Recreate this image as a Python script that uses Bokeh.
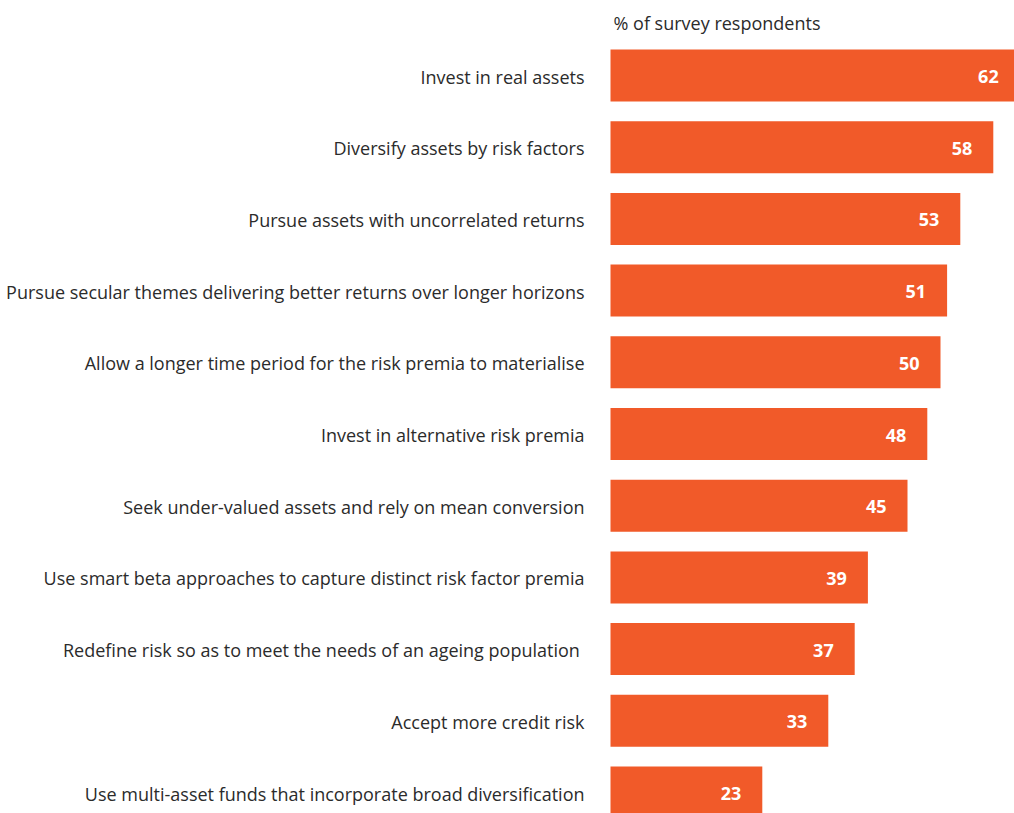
from bokeh.plotting import figure
from bokeh.models import ColumnDataSource, Range1d
from bokeh.core.properties import value
from bokeh.embed import file_html
from bokeh.resources import INLINE

categories = [
    "Invest in real assets",
    "Diversify assets by risk factors",
    "Pursue assets with uncorrelated returns",
    "Pursue secular themes delivering better returns over longer horizons",
    "Allow a longer time period for the risk premia to materialise",
    "Invest in alternative risk premia",
    "Seek under-valued assets and rely on mean conversion",
    "Use smart beta approaches to capture distinct risk factor premia",
    "Redefine risk so as to meet the needs of an ageing population ",
    "Accept more credit risk",
    "Use multi-asset funds that incorporate broad diversification",
]
values = [62, 58, 53, 51, 50, 48, 45, 39, 37, 33, 23]
axis_title = "% of survey respondents"

W, H = 1014, 813
x0_px = 610
ppu = 6.6
pitch = 71.7
first_center = 75

pos = list(range(len(categories)))
src = ColumnDataSource(dict(y=pos, v=values, cat=categories,
                            lab=[str(v) for v in values]))

p = figure(width=W, height=H, output_backend="svg", toolbar_location=None,
           x_range=Range1d(-x0_px / ppu, (W - x0_px) / ppu),
           y_range=Range1d((H - first_center) / pitch, -first_center / pitch),
           min_border=0, outline_line_color=None)
p.axis.visible = False
p.grid.visible = False
p.background_fill_color = "white"
p.border_fill_color = "white"

p.hbar(y="y", right="v", left=0, height=52 / pitch, source=src,
       fill_color="#F15A29", line_color=None)

p.text(x=0, y="y", text="cat", source=src, x_offset=-26, y_offset=1,
       text_align="right", text_baseline="middle",
       text_font=value("Open Sans"), text_font_size="18px", text_color="#2b2b2b")

p.text(x="v", y="y", text="lab", source=src, x_offset=-21, y_offset=1,
       text_align="right", text_baseline="middle",
       text_font=value("Open Sans"), text_font_size="18px",
       text_font_style="bold", text_color="white")

p.text(x=[0], y=[-first_center / pitch], text=[axis_title], x_offset=3, y_offset=22,
       text_align="left", text_baseline="middle",
       text_font=value("Open Sans"), text_font_size="18px", text_color="#2b2b2b")

open("out.html", "w").write(file_html(p, INLINE))
